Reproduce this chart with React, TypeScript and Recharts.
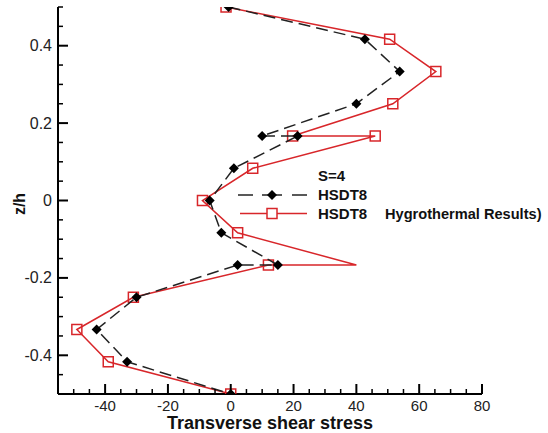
import { ScatterChart, Scatter, XAxis, YAxis } from 'recharts';

// z/h levels (top to bottom), interfaces appear twice
const zLevels = [0.5, 0.4167, 0.3333, 0.25, 0.1667, 0.1667, 0.0833, 0, -0.0833, -0.1667, -0.1667, -0.25, -0.3333, -0.4167, -0.5];
const hsdt8 = [-0.7, 42.7, 53.8, 40, 10, 21.3, 1, -6.7, -3, 15, 2.2, -30, -42.7, -33, 0];
const hygro = [-1.5, 50.6, 65.3, 51.6, 19.7, 46, 7, -9, 2.2, 40, 12, -31, -49, -39, 0];

const xTicks = [-50, -45, -40, -35, -30, -25, -20, -15, -10, -5, 0, 5, 10, 15, 20, 25, 30, 35, 40, 45, 50, 55, 60, 65, 70, 75, 80];
const xLabels = [-40, -20, 0, 20, 40, 60, 80];
const yTicks = [-0.5, -0.45, -0.4, -0.35, -0.3, -0.25, -0.2, -0.15, -0.1, -0.05, 0, 0.05, 0.1, 0.15, 0.2, 0.25, 0.3, 0.35, 0.4, 0.45, 0.5];
const yLabels = [-0.4, -0.2, 0, 0.2, 0.4];

const RED = '#d8262a';
const FONT = '"Liberation Sans", Arial, sans-serif';

const hsdtData = zLevels.map((z, i) => ({ x: hsdt8[i], z }));
const hygroData = zLevels.map((z, i) => ({ x: hygro[i], z }));

const isMajor = (list: number[], v: number) => list.some((m) => Math.abs(m - v) < 1e-6);

const XTick = (props: any) => {
  const { x, y, payload } = props;
  const major = isMajor(xLabels, payload.value);
  return (
    <g>
      <line x1={x} x2={x} y1={y} y2={y - (major ? 10 : 5)} stroke="#000" strokeWidth={major ? 2 : 1.5} />
      {major && (
        <text x={x} y={y + 17} textAnchor="middle" fontSize={15} fontFamily={FONT} fill="#222">
          {payload.value}
        </text>
      )}
    </g>
  );
};

const YTick = (props: any) => {
  const { x, y, payload } = props;
  const v = payload.value;
  const major = isMajor(yLabels, v);
  return (
    <g>
      <line x1={x} x2={x + (major ? 10 : 5)} y1={y} y2={y} stroke="#000" strokeWidth={major ? 2 : 1.5} />
      {major && (
        <text x={x - 6} y={y + 5.5} textAnchor="end" fontSize={16} fontFamily={FONT} fill="#222">
          {Math.abs(v) < 1e-6 ? '0' : v.toFixed(1)}
        </text>
      )}
    </g>
  );
};

const Diamond = (props: any) => {
  const { cx, cy } = props;
  const r = 5;
  return <polygon points={`${cx},${cy - r} ${cx + r},${cy} ${cx},${cy + r} ${cx - r},${cy}`} fill="#000" />;
};

const OpenSquare = (props: any) => {
  const { cx, cy, payload } = props;
  // the marker at (40, -0.167) is broken in the original figure
  if (payload && payload.x === hygro[9] && payload.z === zLevels[9]) return <g />;
  return <rect x={cx - 5} y={cy - 5} width={10} height={10} fill="none" stroke={RED} strokeWidth={1.5} />;
};

const ZLabel = () => (
  <text x={25} y={204} transform="rotate(-90 25 204)" textAnchor="middle" fontSize={16} fontWeight="bold" fontFamily={FONT} fill="#111">
    z/h
  </text>
);

export default function App() {
  return (
    <div style={{ position: 'absolute', left: 0, top: 0, width: 548, height: 433, background: '#fff' }}>
      <ScatterChart width={548} height={433} margin={{ top: 7, right: 66, bottom: 0, left: 0 }}>
        <XAxis
          type="number"
          dataKey="x"
          domain={[-55, 80]}
          ticks={xTicks}
          interval={0}
          tickSize={0}
          tickMargin={0}
          tick={<XTick />}
          tickLine={false}
          axisLine={{ stroke: '#000', strokeWidth: 2 }}
          height={39}
          allowDataOverflow
          label={{ value: 'Transverse shear stress', position: 'insideBottom', offset: 4, fontSize: 18, fontWeight: 'bold', fontFamily: FONT, fill: '#111' }}
        />
        <YAxis
          type="number"
          dataKey="z"
          domain={[-0.5, 0.5]}
          ticks={yTicks}
          interval={0}
          tickSize={0}
          tickMargin={0}
          tick={<YTick />}
          tickLine={false}
          axisLine={{ stroke: '#000', strokeWidth: 2 }}
          width={58}
          allowDataOverflow
          label={<ZLabel />}
        />
        <Scatter
          name="HSDT8 Hygrothermal Results)"
          data={hygroData}
          fill={RED}
          shape={<OpenSquare />}
          line={{ stroke: RED, strokeWidth: 1.5 }}
          isAnimationActive={false}
        />
        <Scatter
          name="HSDT8"
          data={hsdtData}
          fill="#000"
          shape={<Diamond />}
          line={{ stroke: '#222', strokeWidth: 1.5, strokeDasharray: '12 6' }}
          isAnimationActive={false}
        />
      </ScatterChart>
      <svg width={548} height={433} style={{ position: 'absolute', left: 0, top: 0, pointerEvents: 'none' }}>
        <text x={318} y={181} fontSize={15} fontWeight="bold" fontFamily={FONT} fill="#111">S=4</text>
        <g stroke="#222" strokeWidth={1.5}>
          <line x1={238} x2={253} y1={195} y2={195} />
          <line x1={262} x2={282} y1={195} y2={195} />
          <line x1={292} x2={307} y1={195} y2={195} />
        </g>
        <polygon points="272,190 277,195 272,200 267,195" fill="#000" />
        <text x={318} y={200} fontSize={15} fontWeight="bold" fontFamily={FONT} fill="#111">HSDT8</text>
        <line x1={240} x2={307} y1={213.5} y2={213.5} stroke={RED} strokeWidth={1.5} />
        <rect x={267} y={208.5} width={10} height={10} fill="#fff" stroke={RED} strokeWidth={1.5} />
        <text x={318} y={219} fontSize={15} fontWeight="bold" fontFamily={FONT} fill="#111">HSDT8</text>
        <text x={385} y={219} fontSize={14.6} fontWeight="bold" fontFamily={FONT} fill="#111">Hygrothermal Results)</text>
      </svg>
    </div>
  );
}
